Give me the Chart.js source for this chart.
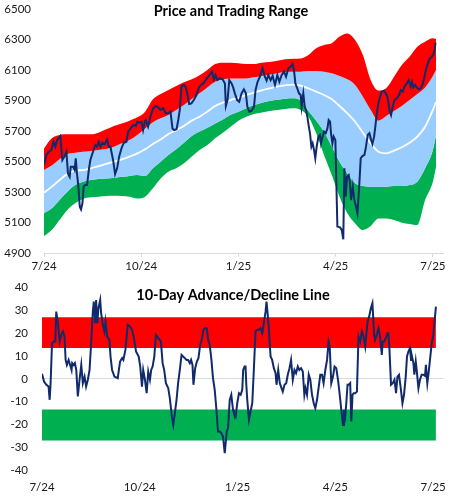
<!DOCTYPE html>
<html lang="en">
<head>
<meta charset="UTF-8">
<title>Price and Trading Range / 10-Day Advance/Decline Line</title>
<script src="https://cdn.jsdelivr.net/npm/chart.js"></script>
<style>
    body { margin: 0; background: #fff; }
    canvas { display: block; }
</style>
</head>
<body>
<canvas id="priceChart" width="456" height="275"></canvas>
<canvas id="breadthChart" width="456" height="225"></canvas>

<script>
    // x axis: trading days since the start of the window
    const X_TICKS = [0, 62.5, 125, 187.5, 250];
    const X_LABELS = ['7/24', '10/24', '1/25', '4/25', '7/25'];

    const PRICE_TICKS = [4900, 5100, 5300, 5500, 5700, 5900, 6100, 6300, 6500];
    const BREADTH_TICKS = [-40, -30, -20, -10, 0, 10, 20, 30, 40];

    // price (closing level)
    const PRICE_DAYS = [
        0, 1.5, 3.2, 4.7, 6.2, 7.3, 8.4, 10.5, 11.8, 13.3,
        14.4, 15.4, 16.5, 17.2, 18.7, 19.7, 20.4, 21.2, 22.1, 23,
        23.8, 24.7, 25.5, 26.4, 27.7, 28.8, 29.8, 31.5, 33, 34.1,
        35.2, 36.3, 37.5, 39, 40.6, 41.6, 42.7, 44.4, 45.7, 47,
        48.3, 49.8, 51.3, 53, 54.1, 55.8, 57.3, 59, 60.1, 61.6,
        62.7, 63.7, 64.8, 65.4, 66.9, 68.4, 70.2, 71.9, 73.4, 74.9,
        76.6, 78.3, 79.8, 81.3, 82.6, 83.7, 85.2, 86.3, 87.3, 88.4,
        89.9, 91.2, 92.3, 93.3, 94.8, 96.3, 98, 99.6, 100.9, 102.4,
        103.9, 105.6, 107.1, 108.1, 109.2, 110.3, 111.4, 113.1, 114.8, 116.3,
        116.9, 118, 119.1, 120.6, 121.6, 122.7, 124.2, 125.5, 127, 128.5,
        129.8, 130.7, 132, 133.5, 135, 136, 137.3, 138.8, 140.5, 142,
        143.1, 144.2, 145.7, 147, 148.5, 150, 151.3, 152.8, 154.3, 155.6,
        157.1, 158.6, 159.8, 160.7, 161.6, 162.8, 163.9, 165, 165.6, 166.7,
        167.6, 168.4, 169.3, 170.1, 171, 171.9, 172.7, 173.6, 174.4, 175.3,
        176.4, 177.4, 178.1, 179.1, 180, 181.1, 182.2, 183, 183.9, 184.5,
        185.4, 186.2, 187.3, 188.6, 190.3, 191.4, 192.4, 193.1, 193.9, 194.8,
        195.9, 196.7, 197.4, 198.5, 199.5, 200.6, 201.5, 202.5, 203.6, 204.7,
        206, 207, 208.1, 209.2, 210.3, 211.1, 212.2, 213, 213.9, 215,
        216, 217.1, 218.6, 219.7, 220.8, 222.1, 223.1, 224.2, 225.3, 226.8,
        228.3, 229.4, 230.6, 231.7, 233.2, 234.5, 235.8, 236.6, 237.5, 238.6,
        239.6, 240.9, 242.2, 243.3, 244.4, 245.5, 246.8, 248.1, 249.4, 250.5,
        251.1, 251.7
    ];
    const PRICE = [
        5477, 5543, 5564, 5575, 5630, 5597, 5641, 5667, 5510, 5536,
        5564, 5422, 5400, 5466, 5466, 5444, 5521, 5422, 5335, 5204,
        5186, 5226, 5335, 5346, 5346, 5444, 5510, 5564, 5608, 5597,
        5630, 5597, 5623, 5614, 5645, 5597, 5597, 5510, 5418, 5455,
        5532, 5586, 5623, 5630, 5696, 5717, 5739, 5733, 5761, 5755,
        5761, 5706, 5761, 5772, 5728, 5794, 5849, 5864, 5855, 5838,
        5849, 5816, 5816, 5827, 5717, 5706, 5711, 5772, 5838, 5995,
        6002, 5986, 5936, 5877, 5881, 5903, 5936, 5986, 6002, 6012,
        6034, 6056, 6078, 6089, 6039, 6067, 6034, 6045, 6039, 6012,
        5864, 5903, 6034, 6012, 5986, 5947, 5903, 5892, 5947, 5973,
        5947, 5860, 5827, 5833, 5860, 5969, 6023, 6056, 6111, 6056,
        6030, 6067, 6034, 6061, 6002, 6067, 6023, 6067, 6089, 6056,
        6111, 6122, 6139, 6100, 6012, 5980, 5947, 5936, 5860, 5947,
        5860, 5838, 5794, 5739, 5685, 5597, 5619, 5575, 5521, 5597,
        5663, 5674, 5619, 5663, 5696, 5685, 5717, 5772, 5761, 5685,
        5619, 5663, 5641, 5073, 5068, 5051, 4990, 5455, 5270, 5400,
        5411, 5357, 5247, 5335, 5247, 5204, 5160, 5313, 5521, 5536,
        5543, 5597, 5674, 5685, 5641, 5615, 5663, 5728, 5816, 5881,
        5925, 5958, 5964, 5947, 5925, 5838, 5805, 5860, 5903, 5914,
        5936, 5969, 5958, 5991, 6012, 6034, 5991, 6023, 5986, 6002,
        5986, 5973, 5980, 6002, 6045, 6100, 6144, 6176, 6187, 6209,
        6231, 6279
    ];

    // trading range bands, sampled every 5 days
    const BAND_DAYS = [
        0, 5, 10, 15, 20, 25, 30, 35, 40, 45,
        50, 55, 60, 65, 70, 75, 80, 85, 90, 95,
        100, 105, 110, 115, 120, 125, 130, 135, 140, 145,
        150, 155, 160, 165, 170, 175, 180, 185, 190, 195,
        200, 205, 210, 215, 220, 225, 230, 235, 240, 245,
        250, 252
    ];
    const RANGE_TOP = [
        5586, 5652, 5674, 5678, 5678, 5678, 5678, 5689, 5711, 5733,
        5750, 5768, 5790, 5827, 5908, 5943, 5969, 5995, 6019, 6039,
        6065, 6100, 6139, 6148, 6148, 6144, 6139, 6139, 6148, 6152,
        6161, 6170, 6174, 6176, 6198, 6242, 6264, 6275, 6319, 6340,
        6297, 6198, 6034, 5965, 5980, 6056, 6133, 6187, 6253, 6286,
        6308, 6303
    ];
    const RANGE_HIGH = [
        5444, 5473, 5514, 5549, 5558, 5564, 5569, 5575, 5582, 5597,
        5619, 5641, 5674, 5717, 5757, 5783, 5805, 5838, 5870, 5910,
        5947, 5986, 6023, 6039, 6045, 6045, 6045, 6052, 6061, 6069,
        6078, 6087, 6089, 6089, 6093, 6093, 6089, 6078, 6061, 6039,
        6002, 5925, 5838, 5768, 5798, 5831, 5864, 5903, 5943, 5986,
        6061, 6100
    ];
    const RANGE_MID = [
        5296, 5335, 5379, 5418, 5440, 5444, 5455, 5470, 5484, 5499,
        5514, 5532, 5553, 5580, 5615, 5645, 5680, 5706, 5733, 5768,
        5794, 5827, 5864, 5886, 5903, 5918, 5936, 5951, 5967, 5980,
        5991, 5999, 6004, 5997, 5980, 5958, 5936, 5908, 5864, 5816,
        5761, 5689, 5619, 5564, 5553, 5571, 5593, 5623, 5663, 5728,
        5838, 5890
    ];
    const RANGE_LOW = [
        5160, 5193, 5247, 5302, 5346, 5368, 5379, 5385, 5389, 5394,
        5400, 5405, 5411, 5405, 5455, 5499, 5543, 5580, 5623, 5667,
        5696, 5722, 5750, 5776, 5807, 5827, 5849, 5870, 5886, 5897,
        5905, 5912, 5914, 5899, 5831, 5768, 5696, 5597, 5499, 5422,
        5357, 5339, 5335, 5335, 5335, 5339, 5339, 5346, 5368, 5455,
        5575, 5674
    ];
    const RANGE_BOTTOM = [
        5011, 5051, 5116, 5182, 5226, 5254, 5265, 5269, 5274, 5276,
        5274, 5269, 5258, 5269, 5324, 5389, 5433, 5455, 5488, 5532,
        5575, 5608, 5652, 5689, 5728, 5768, 5794, 5811, 5822, 5831,
        5838, 5844, 5849, 5838, 5794, 5685, 5543, 5411, 5269, 5160,
        5094, 5051, 5077, 5127, 5127, 5116, 5099, 5090, 5083, 5247,
        5368, 5466
    ];

    // 10-day advance/decline line
    const AD_DAYS = [
        0, 1.3, 2.8, 4.2, 4.9, 5.5, 6.4, 7.6, 8.5, 9.1,
        10.2, 11.3, 12.3, 13.4, 14.4, 15.1, 15.9, 17, 18, 18.9,
        19.3, 20.2, 21, 21.9, 22.9, 24, 25.1, 26.1, 27.2, 28.2,
        29.3, 30.4, 31.4, 32.5, 33.1, 34, 34.6, 35.3, 36.1, 37.2,
        37.8, 38.9, 39.9, 40.6, 41.6, 43.1, 43.8, 44.8, 46.3, 48.4,
        49.9, 51.2, 52, 53.3, 54.8, 56.3, 57.5, 58.6, 60.1, 61.8,
        62.8, 63.9, 64.7, 65.8, 66.9, 67.9, 69, 69.8, 70.7, 71.8,
        72.8, 74.5, 76, 77.1, 78.1, 79.2, 80.7, 81.7, 83, 83.9,
        84.9, 86, 87, 88.1, 89.2, 90.2, 91.3, 92.4, 93.4, 94.5,
        95.3, 96.2, 96.8, 97.9, 99, 100, 101.1, 102.1, 103.2, 104.2,
        105.3, 106.2, 107.2, 108.3, 109.3, 110.4, 111.5, 112.5, 113.6, 114.6,
        115.7, 116.8, 117.4, 118.1, 118.9, 120, 121, 122.1, 122.7, 123.8,
        124.8, 125.9, 127, 128, 128.6, 129.5, 130.1, 130.6, 131.2, 132.3,
        133.3, 134.4, 135.4, 136.5, 137.6, 138.6, 139.7, 140.8, 141.8, 142.9,
        143.5, 144.2, 145, 146.1, 147.1, 148.2, 149.3, 149.9, 151, 152,
        153.1, 153.9, 155, 156.1, 157.1, 158.2, 159.2, 160.3, 161.4, 162.4,
        163.5, 164.5, 165.6, 166.7, 167.7, 168.4, 169.4, 170.5, 171.5, 172.6,
        173.7, 174.7, 175.8, 176.9, 177.9, 179, 180, 181.1, 182.2, 183.2,
        183.9, 184.9, 186, 187, 188.1, 189.2, 190.2, 191.3, 192.4, 193,
        193.8, 194.5, 195.3, 196, 197, 197.7, 198.5, 199.2, 200.2, 201.3,
        202.3, 203.4, 204.5, 205.5, 206.6, 207.2, 208.1, 209.1, 210.2, 211.2,
        212.3, 212.9, 214, 215.1, 216.1, 217.2, 217.8, 218.7, 219.7, 220.8,
        221.4, 222.1, 223.1, 224.2, 225.3, 226.3, 227.2, 228.2, 229.3, 230.4,
        231.4, 232.5, 233.3, 234.2, 235.2, 235.9, 236.5, 237.4, 238, 238.9,
        239.5, 240.6, 241.6, 242.7, 243.8, 244.8, 245.4, 246.3, 247.1, 248,
        249.1, 250.1, 251.2, 251.8
    ];
    const AD_LINE = [
        2.2, -1.2, -2.6, -3.4, -9.2, -1.9, 15.6, 16.4, 16.4, 29.5,
        24.4, 16.4, 19.3, 20.8, 18.6, 8.3, 6.1, 8.3, 6.1, 3.9,
        6.9, 6.1, 6.9, 3.9, -7.7, -0.4, 6.1, -1.9, 1, -3.4,
        -0.4, 3.9, 15.6, 29.5, 33.9, 24.4, 34.6, 24.4, 31, 34.6,
        28.8, 23.7, 20.8, 25.1, 18.6, 17.1, 9.8, 3.9, 1, 0.3,
        7.6, 9.1, 8.3, 12.7, 23.7, 23, 21.5, 18.6, 12, 9.8,
        5.4, -3.4, 3.9, -0.4, -6.3, 3.2, -0.4, 3.9, 5.4, 9.8,
        19.3, 17.8, 16.4, 6.9, 3.9, -1.9, -4.1, -8.5, -16.5, -20.2,
        -15.1, -9.2, -1.9, 3.9, 10.5, 9.8, 9.1, 8.3, 8.3, 6.9,
        8.3, 6.1, -2.6, 4.7, 7.6, 9.1, 14.9, 17.1, 21.5, 22.2,
        22.2, 17.1, 14.9, 8.3, 0.3, -4.8, -13.6, -23.1, -23.1, -23.8,
        -25.3, -32.6, -28.2, -23.1, -21.6, -9.2, -7, -13.6, -15.1, -16.5,
        -10.7, -6.3, -7, -4.8, 3.9, 5.4, 5.4, -2.6, -9.2, -18,
        -14.3, -10.7, 3.9, 20.8, 21.5, 21.5, 22.2, 20, 24.4, 29.5,
        33.9, 28.8, 22.2, 9.8, 8.3, 4.7, 2.5, -2.6, 3.9, -1.9,
        -4.1, -5.6, -2.6, -1.9, 1.8, 4.7, 8.3, -0.4, 3.9, 2.5,
        5.4, 3.9, 4.7, 3.2, -7, -4.1, -7, 1.8, -0.4, -7,
        -10.7, -12.9, -9.2, -3.4, 1.8, 1.8, -1.9, 3.9, 8.3, 16.4,
        14.2, -1.9, 1, 5.4, 4.7, -0.4, -6.3, -13.6, -20.2, -13.6,
        -16.5, -10.7, -2.6, -2.6, -1.9, -18.7, -7, -6.3, -6.3, -5.6,
        18.6, 16.4, 20.8, 18.6, 14.2, 18.6, 25.1, 27.3, 31, 33.2,
        19.3, 17.1, 19.3, 22.2, 18.6, 10.5, 16.4, 16.4, 17.8, 20,
        20, 12.7, -2.6, -1.9, -0.4, -6.3, 1, 1.8, -4.1, -10.7,
        -7, 1, 9.8, 12, 13.5, 8.3, 9.8, 6.9, 1.8, 7.6,
        3.9, -4.1, -0.4, 1.8, 1.8, 1.3, 6.1, -1.9, 2.5, 8.3,
        15.6, 19.3, 27.3, 31.7
    ];
    // overbought / oversold zones (low, high)
    const OVERBOUGHT = [13.5, 27];
    const OVERSOLD = [-27, -13.5];

    const TITLES = ['Price and Trading Range', '10-Day Advance/Decline Line'];

    // ---- styling ----
    const NAVY = '#102a6b';
    const RED = '#ff0000';
    const BLUE = '#99ccff';
    const GREEN = '#00b050';
    const AXIS = '#d9d9d9';
    const TEXT = '#1a1a1a';
    const TICK_FONT = { family: 'Lato, "Liberation Sans", sans-serif', size: 11.5 };

    function toPoints(days, values) {
        return days.map((d, i) => ({ x: d, y: values[i] }));
    }

    function bandLine(data, fillTarget, color, order) {
        return {
            data: data,
            borderWidth: 0,
            pointRadius: 0,
            backgroundColor: color,
            fill: fillTarget === null ? false : { target: fillTarget },
            cubicInterpolationMode: 'monotone',
            order: order
        };
    }

    // title drawn inside the plot area, like the original
    const panelTitle = {
        id: 'panelTitle',
        afterDatasetsDraw(chart, args, opts) {
            const ctx = chart.ctx;
            ctx.save();
            ctx.font = 'bold 14.5px Lato, "Liberation Sans", sans-serif';
            ctx.fillStyle = '#000';
            ctx.textAlign = 'center';
            ctx.textBaseline = 'alphabetic';
            ctx.fillText(opts.text, opts.x, opts.y);
            ctx.restore();
        }
    };

    function xAxis(height, padding, showLine) {
        return {
            type: 'linear',
            min: 0,
            max: 256.5,
            afterBuildTicks: s => { s.ticks = X_TICKS.map(v => ({ value: v })); },
            afterFit: s => { s.height = height; },
            ticks: {
                autoSkip: false,
                maxRotation: 0,
                padding: padding,
                color: TEXT,
                font: TICK_FONT,
                callback: (v, i) => X_LABELS[i]
            },
            grid: { display: showLine, drawOnChartArea: false, drawTicks: showLine, tickLength: 4, color: AXIS },
            border: { display: showLine, color: AXIS }
        };
    }

    // y axis: labels pushed left by an invisible tick mark
    function yAxis(min, max, values, width, gap, gridColor) {
        return {
            min: min,
            max: max,
            afterBuildTicks: s => { s.ticks = values.map(v => ({ value: v })); },
            afterFit: s => { s.width = width; },
            ticks: { padding: 0, color: TEXT, font: TICK_FONT, callback: v => String(v) },
            grid: {
                drawOnChartArea: gridColor !== null,
                drawTicks: true,
                tickLength: gap,
                tickColor: 'transparent',
                color: gridColor === null ? 'transparent' : gridColor
            },
            border: { display: false }
        };
    }

    // Gráfico de cima: preço e faixa de negociação
    new Chart(document.getElementById('priceChart'), {
        type: 'line',
        data: {
            datasets: [
                {
                    data: toPoints(PRICE_DAYS, PRICE),
                    borderColor: NAVY,
                    borderWidth: 2,
                    pointRadius: 0,
                    fill: false,
                    order: 0
                },
                {
                    data: toPoints(BAND_DAYS, RANGE_MID),
                    borderColor: '#ffffff',
                    borderWidth: 1.8,
                    pointRadius: 0,
                    fill: false,
                    cubicInterpolationMode: 'monotone',
                    order: 1
                },
                bandLine(toPoints(BAND_DAYS, RANGE_TOP), 3, RED, 2),
                bandLine(toPoints(BAND_DAYS, RANGE_HIGH), 4, BLUE, 3),
                bandLine(toPoints(BAND_DAYS, RANGE_LOW), 5, GREEN, 4),
                bandLine(toPoints(BAND_DAYS, RANGE_BOTTOM), null, 'transparent', 5)
            ]
        },
        options: {
            responsive: false,
            animation: false,
            devicePixelRatio: 1,
            layout: { padding: { left: 0, right: 13, top: 9, bottom: 0 } },
            plugins: {
                legend: { display: false },
                tooltip: { enabled: false },
                panelTitle: { text: TITLES[0], x: 231, y: 16 }
            },
            scales: {
                x: xAxis(22, 2, true),
                y: yAxis(4900, 6500, PRICE_TICKS, 44, 13, null)
            }
        },
        plugins: [panelTitle]
    });

    // Gráfico de baixo: linha de avanço/declínio de 10 dias
    const adStart = AD_DAYS[0];
    const adEnd = AD_DAYS[AD_DAYS.length - 1];

    new Chart(document.getElementById('breadthChart'), {
        type: 'line',
        data: {
            datasets: [
                {
                    data: toPoints(AD_DAYS, AD_LINE),
                    borderColor: NAVY,
                    borderWidth: 2,
                    pointRadius: 0,
                    fill: false,
                    order: 0
                },
                bandLine(toPoints([adStart, adEnd], [OVERBOUGHT[1], OVERBOUGHT[1]]), 2, RED, 1),
                bandLine(toPoints([adStart, adEnd], [OVERBOUGHT[0], OVERBOUGHT[0]]), null, 'transparent', 2),
                bandLine(toPoints([adStart, adEnd], [OVERSOLD[1], OVERSOLD[1]]), 4, GREEN, 3),
                bandLine(toPoints([adStart, adEnd], [OVERSOLD[0], OVERSOLD[0]]), null, 'transparent', 4)
            ]
        },
        options: {
            responsive: false,
            animation: false,
            devicePixelRatio: 1,
            layout: { padding: { left: 0, right: 11, top: 12.7, bottom: 0 } },
            plugins: {
                legend: { display: false },
                tooltip: { enabled: false },
                panelTitle: { text: TITLES[1], x: 233, y: 25 }
            },
            scales: {
                x: xAxis(30, 10, false),
                y: yAxis(-40, 40, BREADTH_TICKS, 42, 14,
                    ctx => (ctx.tick && ctx.tick.value === 0 ? AXIS : 'transparent'))
            }
        },
        plugins: [panelTitle]
    });
</script>
</body>
</html>
